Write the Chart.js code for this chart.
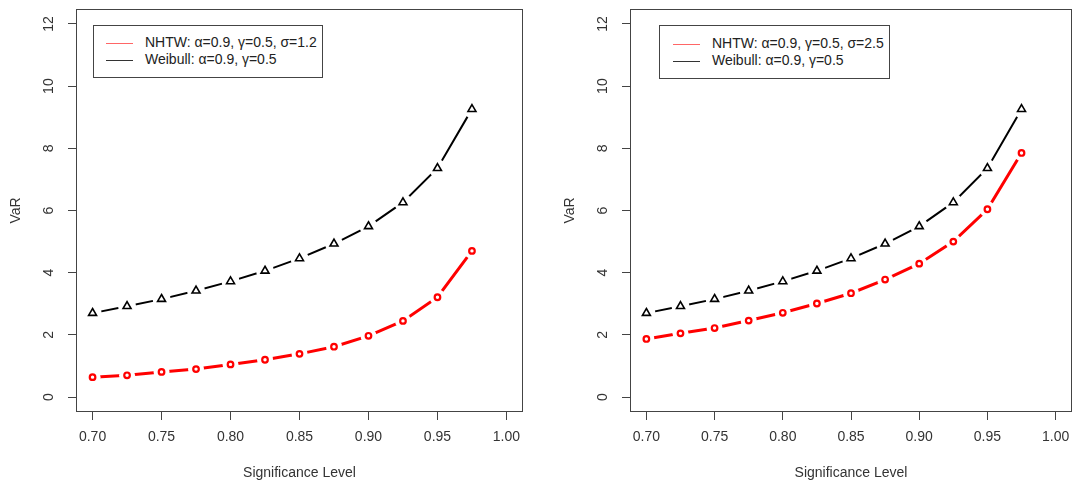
<!DOCTYPE html>
<html>
<head>
<meta charset="utf-8">
<script src="https://cdn.jsdelivr.net/npm/chart.js@4.4.0/dist/chart.umd.min.js"></script>
<style>
  body { margin: 0; background: #fff; font-family: "Liberation Sans", Arial, sans-serif; }
  #wrap { position: relative; width: 1081px; height: 484px; overflow: hidden; }
  canvas { position: absolute; top: 0; }
  #leftChart { left: 0; }
  #rightChart { left: 540px; }
  .legend { position: absolute; border: 1px solid #444; background: #fff; font-size: 14px; color: #222; }
  .legend .row { position: absolute; left: 0; white-space: nowrap; }
  .legend .swatch { position: absolute; width: 27px; height: 0; border-top: 1.5px solid; }
</style>
</head>
<body>
<div id="wrap">
  <canvas id="leftChart" width="540" height="484"></canvas>
  <canvas id="rightChart" width="541" height="484"></canvas>

  <div class="legend" style="left:93px; top:25px; width:228px; height:51px;">
    <div class="swatch" style="left:12px; top:17px; border-color:#ff6666;"></div>
    <div class="row" style="left:51px; top:8px;">NHTW: α=0.9, γ=0.5, σ=1.2</div>
    <div class="swatch" style="left:12px; top:34px; border-color:#333;"></div>
    <div class="row" style="left:51px; top:25px;">Weibull: α=0.9, γ=0.5</div>
  </div>

  <div class="legend" style="left:659px; top:25px; width:229px; height:52px;">
    <div class="swatch" style="left:13px; top:18px; border-color:#ff6666;"></div>
    <div class="row" style="left:52px; top:9px;">NHTW: α=0.9, γ=0.5, σ=2.5</div>
    <div class="swatch" style="left:13px; top:35px; border-color:#333;"></div>
    <div class="row" style="left:52px; top:26px;">Weibull: α=0.9, γ=0.5</div>
  </div>
</div>

<script>
// significance levels (x)
const levels = [0.700, 0.725, 0.750, 0.775, 0.800, 0.825, 0.850, 0.875, 0.900, 0.925, 0.950, 0.975];

// Weibull VaR, same in both panels
const weibullVaR = [2.70, 2.92, 3.15, 3.42, 3.72, 4.06, 4.46, 4.93, 5.49, 6.26, 7.36, 9.26];

// NHTW VaR, sigma = 1.2 (left) and sigma = 2.5 (right)
const nhtwLeft  = [0.64, 0.70, 0.81, 0.90, 1.05, 1.20, 1.39, 1.62, 1.97, 2.45, 3.21, 4.70];
const nhtwRight = [1.87, 2.05, 2.22, 2.46, 2.71, 3.01, 3.34, 3.78, 4.29, 5.00, 6.04, 7.85];

// axis ticks
const xTicks = [0.70, 0.75, 0.80, 0.85, 0.90, 0.95, 1.00];
const yTicks = [0, 2, 4, 6, 8, 10, 12];

const FONT = '"Liberation Sans", Arial, sans-serif';

function points(ys) {
  return levels.map((x, i) => ({ x: x, y: ys[i] }));
}

// R-ish box, rotated y labels and axis titles
const framePlugin = {
  id: "frame",
  afterDraw(chart) {
    const { ctx, chartArea: a } = chart;
    const y = chart.scales.y;
    ctx.save();
    ctx.strokeStyle = "#444";
    ctx.lineWidth = 1;
    ctx.strokeRect(a.left + 0.5, a.top + 0.5, a.right - a.left - 1, a.bottom - a.top - 1);

    ctx.fillStyle = "#333";
    ctx.font = "14px " + FONT;
    ctx.textAlign = "center";
    ctx.textBaseline = "middle";
    yTicks.forEach(v => {
      ctx.save();
      ctx.translate(a.left - 27, y.getPixelForValue(v));
      ctx.rotate(-Math.PI / 2);
      ctx.fillText(String(v), 0, 0);
      ctx.restore();
    });

    ctx.save();
    ctx.translate(a.left - 60, (a.top + a.bottom) / 2);
    ctx.rotate(-Math.PI / 2);
    ctx.fillText("VaR", 0, 0);
    ctx.restore();

    ctx.fillText("Significance Level", (a.left + a.right) / 2, 473);
    ctx.restore();
  }
};

function makePanel(id, nhtw, yAxisWidth, rightPad) {
  const ctx = document.getElementById(id).getContext("2d");
  return new Chart(ctx, {
    type: "scatter",
    data: {
      datasets: [
        // markers on top
        {
          data: points(weibullVaR), order: 0, showLine: false,
          pointStyle: "triangle", pointRadius: 4.6, borderWidth: 1.6,
          borderColor: "#000", backgroundColor: "rgba(0,0,0,0)"
        },
        {
          data: points(nhtw), order: 0, showLine: false,
          pointStyle: "circle", pointRadius: 2.8, borderWidth: 2.2,
          borderColor: "#ff0000", backgroundColor: "#fff"
        },
        // white halos -> gaps in the line like R type="b"
        {
          data: points(weibullVaR), order: 1, showLine: false,
          pointStyle: "circle", pointRadius: 9, pointBorderWidth: 0,
          pointBackgroundColor: "#ffffff", pointBorderColor: "#ffffff"
        },
        {
          data: points(nhtw), order: 1, showLine: false,
          pointStyle: "circle", pointRadius: 8, pointBorderWidth: 0,
          pointBackgroundColor: "#ffffff", pointBorderColor: "#ffffff"
        },
        // lines
        {
          data: points(weibullVaR), order: 2, showLine: true, pointRadius: 0,
          borderColor: "#000", borderWidth: 2, tension: 0
        },
        {
          data: points(nhtw), order: 2, showLine: true, pointRadius: 0,
          borderColor: "#ff0000", borderWidth: 3, tension: 0
        }
      ]
    },
    options: {
      responsive: false,
      animation: false,
      events: [],
      layout: { padding: { top: 7, right: rightPad, left: 0, bottom: 0 } },
      plugins: { legend: { display: false }, tooltip: { enabled: false } },
      scales: {
        x: {
          type: "linear",
          min: 0.688, max: 1.012,
          afterBuildTicks: s => { s.ticks = xTicks.map(v => ({ value: v })); },
          afterFit: s => { s.height = 72; },
          border: { display: false },
          grid: { drawOnChartArea: false, drawTicks: true, tickLength: 8, color: "#444" },
          ticks: {
            padding: 9, color: "#333", maxRotation: 0,
            font: { family: FONT, size: 14 },
            callback: v => Number(v).toFixed(2)
          }
        },
        y: {
          type: "linear",
          min: -0.48, max: 12.48,
          afterBuildTicks: s => { s.ticks = yTicks.map(v => ({ value: v })); },
          afterFit: s => { s.width = yAxisWidth; },
          border: { display: false },
          grid: { drawOnChartArea: false, drawTicks: true, tickLength: 8, color: "#444" },
          ticks: { display: false }
        }
      }
    },
    plugins: [framePlugin]
  });
}

document.addEventListener("DOMContentLoaded", () => {
  makePanel("leftChart", nhtwLeft, 76, 17);
  makePanel("rightChart", nhtwRight, 90, 4);
});
</script>
</body>
</html>
